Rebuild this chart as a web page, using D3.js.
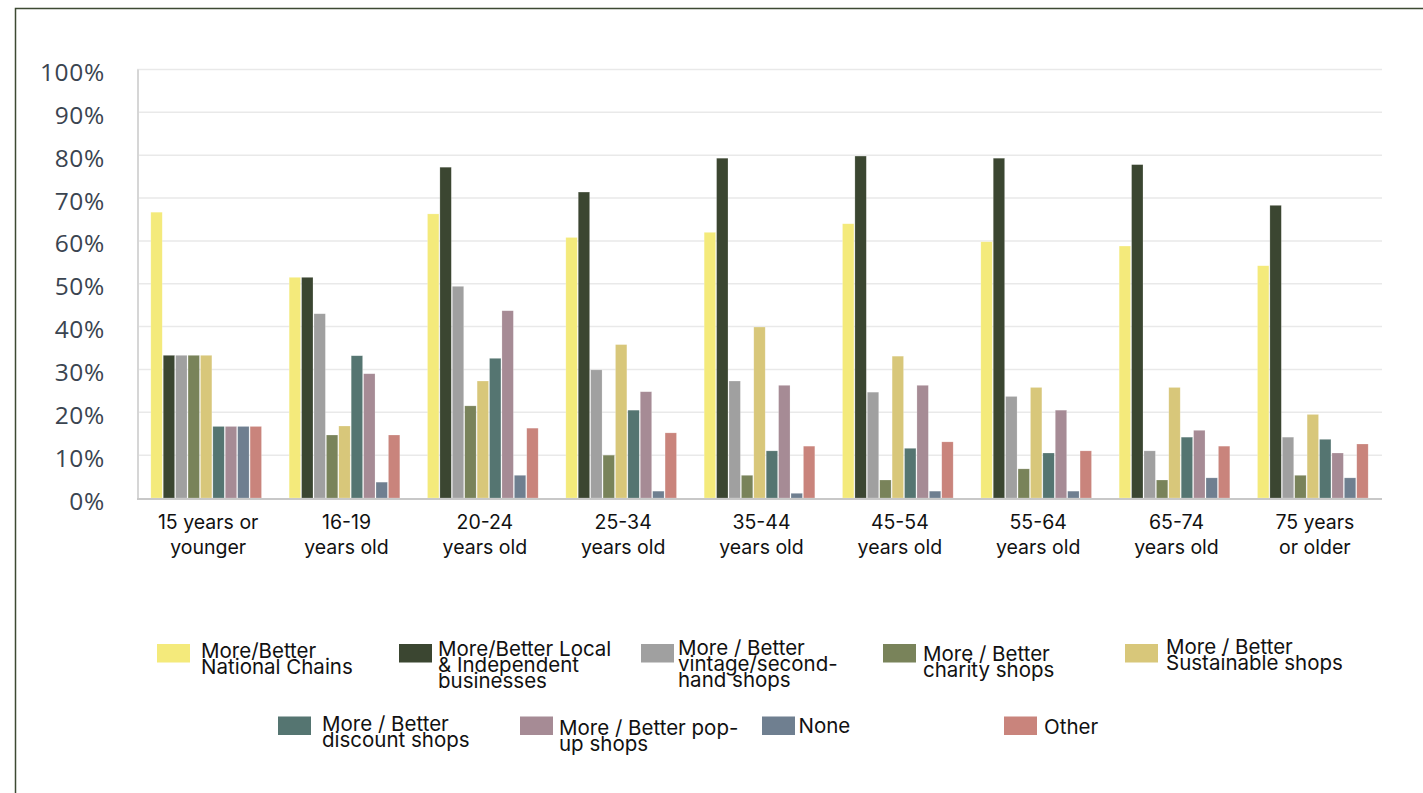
<!DOCTYPE html>
<html>
<head>
<meta charset="utf-8">
<script src="https://cdn.jsdelivr.net/npm/d3@7"></script>
<style>
  html, body { margin: 0; padding: 0; background: #ffffff; }
  svg { display: block; }
</style>
</head>
<body>
<svg id="chart" width="1423" height="793"></svg>
<script>
// Age groups (x-axis), each label split over two lines
const ageGroups = [
  ["15 years or", "younger"],
  ["16-19", "years old"],
  ["20-24", "years old"],
  ["25-34", "years old"],
  ["35-44", "years old"],
  ["45-54", "years old"],
  ["55-64", "years old"],
  ["65-74", "years old"],
  ["75 years", "or older"]
];

// Series names, as shown in the legend (line breaks kept)
const seriesNames = [
  ["More/Better", "National Chains"],
  ["More/Better Local", "& Independent", "businesses"],
  ["More / Better", "vintage/second-", "hand shops"],
  ["More / Better", "charity shops"],
  ["More / Better", "Sustainable shops"],
  ["More / Better", "discount shops"],
  ["More / Better pop-", "up shops"],
  ["None"],
  ["Other"]
];

// Percentages per series, one value per age group
const nationalChains   = [66.7, 51.5, 66.3, 60.8, 62.0, 64.0, 59.8, 58.8, 54.2];
const localIndependent = [33.3, 51.5, 77.2, 71.4, 79.3, 79.8, 79.3, 77.8, 68.3];
const vintageSecond    = [33.3, 43.0, 49.4, 29.9, 27.3, 24.7, 23.7, 11.0, 14.2];
const charityShops     = [33.3, 14.7, 21.5, 10.0, 5.3, 4.2, 6.8, 4.2, 5.3];
const sustainableShops = [33.3, 16.8, 27.3, 35.8, 39.9, 33.1, 25.8, 25.8, 19.5];
const discountShops    = [16.7, 33.2, 32.6, 20.5, 11.0, 11.6, 10.5, 14.2, 13.7];
const popUpShops       = [16.7, 29.0, 43.7, 24.8, 26.3, 26.3, 20.5, 15.8, 10.5];
const noneValues       = [16.7, 3.7, 5.3, 1.6, 1.1, 1.6, 1.6, 4.7, 4.7];
const otherValues      = [16.7, 14.7, 16.3, 15.2, 12.1, 13.1, 11.0, 12.1, 12.6];

const seriesValues = [
  nationalChains, localIndependent, vintageSecond, charityShops,
  sustainableShops, discountShops, popUpShops, noneValues, otherValues
];

const seriesColors = [
  "#f4ea7b", "#3b4631", "#a0a0a0", "#79835a", "#d8c77a",
  "#557571", "#a68b95", "#6f7f90", "#c9847c"
];

const yTicks = [0, 10, 20, 30, 40, 50, 60, 70, 80, 90, 100];

// ---- layout ----
const svg = d3.select("#chart");
const plot = { left: 137, right: 1382, top: 69.5, bottom: 498 };

// outer frame (top and left edges visible)
svg.append("path")
  .attr("d", "M15.5,793 L15.5,8.5 L1423,8.5")
  .attr("fill", "none")
  .attr("stroke", "#3d4a33")
  .attr("stroke-width", 1.5);

const x0 = d3.scaleBand()
  .domain(d3.range(ageGroups.length))
  .range([plot.left, plot.right])
  .paddingInner(0.2)
  .paddingOuter(0.1);

const x1 = d3.scaleBand()
  .domain(d3.range(seriesValues.length))
  .range([0, x0.bandwidth()])
  .paddingInner(0.08);

const y = d3.scaleLinear()
  .domain([0, 100])
  .range([plot.bottom, plot.top]);

// gridlines
svg.append("g")
  .selectAll("line")
  .data(yTicks.filter(d => d > 0))
  .join("line")
  .attr("x1", plot.left)
  .attr("x2", plot.right)
  .attr("y1", d => y(d))
  .attr("y2", d => y(d))
  .attr("stroke", "#e9e9e9")
  .attr("stroke-width", 1.5);

// y axis (labels only, drawn through d3.axisLeft)
const yAxis = svg.append("g")
  .attr("transform", `translate(105,0)`)
  .call(d3.axisLeft(y).tickValues(yTicks).tickFormat(d => d + "%").tickSize(0).tickPadding(0));
yAxis.select(".domain").remove();
yAxis.selectAll("text")
  .attr("font-family", "'Open Sans', sans-serif")
  .attr("font-size", 24.5)
  .attr("letter-spacing", 0.7)
  .attr("fill", "#3a4450")
  .attr("dy", "0.45em");

// vertical axis line
svg.append("line")
  .attr("x1", plot.left + 1)
  .attr("x2", plot.left + 1)
  .attr("y1", plot.top)
  .attr("y2", plot.bottom)
  .attr("stroke", "#d6d6d6")
  .attr("stroke-width", 2);

// bars
const groups = svg.append("g")
  .selectAll("g")
  .data(ageGroups)
  .join("g")
  .attr("transform", (d, i) => `translate(${x0(i)},0)`);

groups.selectAll("rect")
  .data((d, i) => seriesValues.map((vals, s) => ({ s, v: vals[i] })))
  .join("rect")
  .attr("x", d => x1(d.s))
  .attr("width", x1.bandwidth())
  .attr("y", d => y(d.v))
  .attr("height", d => y(0) - y(d.v))
  .attr("fill", d => seriesColors[d.s])
  .attr("stroke", "#ffffff")
  .attr("stroke-opacity", 0.35)
  .attr("stroke-width", 0.6);

// baseline
svg.append("line")
  .attr("x1", plot.left)
  .attr("x2", plot.right)
  .attr("y1", plot.bottom + 1)
  .attr("y2", plot.bottom + 1)
  .attr("stroke", "#c8c8c8")
  .attr("stroke-width", 2);

// x axis labels
const xAxis = svg.append("g")
  .attr("transform", `translate(0,${plot.bottom})`)
  .call(d3.axisBottom(x0).tickSize(0).tickFormat(() => ""));
xAxis.select(".domain").remove();
xAxis.selectAll(".tick text").remove();
xAxis.selectAll(".tick").each(function (i) {
  const t = d3.select(this).append("text")
    .attr("text-anchor", "middle")
    .attr("font-family", "Inter, 'Noto Sans', sans-serif")
    .attr("font-size", 19.5)
    .attr("fill", "#111111");
  ageGroups[i].forEach((line, k) => {
    t.append("tspan").attr("x", 2).attr("y", 31 + k * 25).text(line);
  });
});

// legend: 5 items on the first row, 4 on the second (offset by half a column)
const legendStep = 242;
const legendPos = seriesNames.map((_, i) => {
  const row = i < 5 ? 0 : 1;
  const col = row === 0 ? i : i - 5;
  return {
    x: 157 + col * legendStep + (row === 1 ? 121 : 0),
    y: row === 0 ? 644 : 716.5
  };
});
const legendTextDx = [44, 39, 37, 40, 41, 44, 39, 36.5, 40];
const legendFirstBaseline = [13.5, 12, 11, 17, 9.5, 14, 18.5, 16, 17];

const legend = svg.append("g")
  .selectAll("g")
  .data(seriesNames)
  .join("g")
  .attr("transform", (d, i) => `translate(${legendPos[i].x},${legendPos[i].y})`);

legend.append("rect")
  .attr("width", 33)
  .attr("height", 18.5)
  .attr("fill", (d, i) => seriesColors[i]);

legend.append("text")
  .attr("font-family", "Inter, 'Noto Sans', sans-serif")
  .attr("font-size", 20.5)
  .attr("fill", "#111111")
  .each(function (lines, i) {
    const t = d3.select(this);
    lines.forEach((line, k) => {
      t.append("tspan")
        .attr("x", legendTextDx[i])
        .attr("y", legendFirstBaseline[i] + k * 16)
        .text(line);
    });
  });
</script>
</body>
</html>
